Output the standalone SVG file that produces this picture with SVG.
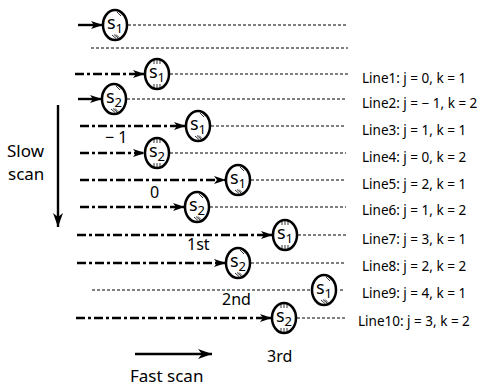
<svg xmlns="http://www.w3.org/2000/svg" xmlns:xlink="http://www.w3.org/1999/xlink" width="488" height="388" viewBox="0 0 488 388">
<style>
.bg{fill:#fff}
.el{fill:#fff;stroke:#000;stroke-width:2.5}
.st{font-family:"Noto Sans","Open Sans",sans-serif;font-size:18px;fill:#000}
.sub{font-size:13px}
.h{stroke:#000;stroke-width:0.8;fill:none}
.in{stroke:#000;stroke-width:2.4;fill:none;stroke-dasharray:9 3 3 3}
.solid{stroke:#000;stroke-width:2.4;fill:none}
.dot{stroke:#000;stroke-width:1;fill:none;stroke-dasharray:3 2}
.lbl{font-family:"Noto Sans","Open Sans",sans-serif;font-size:13.5px;fill:#000}
.big{font-family:"Noto Sans","Open Sans",sans-serif;font-size:17px;fill:#000}
.mid{font-family:"Noto Sans","Open Sans",sans-serif;font-size:16px;fill:#000}
</style>
<defs>
<marker id="ah" markerUnits="userSpaceOnUse" markerWidth="14" markerHeight="10" refX="12" refY="4" orient="auto">
<path d="M0,0 L12,4 L0,8 L3,4 z" fill="#000"/>
</marker>
<marker id="ahb" markerUnits="userSpaceOnUse" markerWidth="16" markerHeight="12" refX="14" refY="5" orient="auto">
<path d="M0,0 L14,5 L0,10 L4,5 z" fill="#000"/>
</marker>
<g id="hd">
<path class="h" d="M2,-13 L6,-9 M4,-13.5 L8,-9.5 M6,-12.5 L9,-9.5 M-3,10 L1,13.5 M-1,9.5 L3,13 M1,9.5 L4,12.5"/>
</g>
<g id="hv">
<path class="h" d="M-3,-14 V-10 M0,-14.5 V-10 M3,-14 V-10 M-3,10 V14 M0,10 V14.5 M3,10 V14"/>
</g>
</defs>
<rect class="bg" x="0" y="0" width="488" height="388"/>

<g id="connectors">
<line class="solid" x1="78" y1="25" x2="103" y2="25" marker-end="url(#ah)"/>
<line class="dot" x1="128" y1="25" x2="348" y2="25"/>
<line class="dot" x1="91" y1="48" x2="348" y2="48"/>
<line class="in" x1="75" y1="74" x2="145" y2="74" marker-end="url(#ah)"/>
<line class="dot" x1="170" y1="74" x2="348" y2="74"/>
<line class="solid" x1="78" y1="99" x2="102" y2="99" marker-end="url(#ah)"/>
<line class="dot" x1="127" y1="99" x2="346" y2="99"/>
<line class="in" x1="80" y1="126" x2="186" y2="126" marker-end="url(#ah)"/>
<line class="dot" x1="211" y1="126" x2="346" y2="126"/>
<line class="in" x1="80" y1="153" x2="145" y2="153" marker-end="url(#ah)"/>
<line class="dot" x1="170" y1="153" x2="346" y2="153"/>
<line class="in" x1="80" y1="180" x2="226" y2="180" marker-end="url(#ah)"/>
<line class="dot" x1="251" y1="180" x2="346" y2="180"/>
<line class="in" x1="80" y1="207" x2="185" y2="207" marker-end="url(#ah)"/>
<line class="dot" x1="210" y1="207" x2="346" y2="207"/>
<line class="in" x1="77" y1="235" x2="273" y2="235" marker-end="url(#ah)"/>
<line class="dot" x1="298" y1="235" x2="346" y2="235"/>
<line class="in" x1="77" y1="263" x2="226" y2="263" marker-end="url(#ah)"/>
<line class="dot" x1="251" y1="263" x2="346" y2="263"/>
<line class="dot" x1="92" y1="290" x2="312" y2="290"/>
<line class="dot" x1="340" y1="290" x2="345" y2="290"/>
<line class="in" x1="76" y1="318" x2="272" y2="318" marker-end="url(#ah)"/>
<line class="dot" x1="297" y1="318" x2="346" y2="318"/>
<line class="solid" x1="58" y1="105" x2="58" y2="227" marker-end="url(#ahb)"/>
<line class="solid" x1="135" y1="354" x2="212" y2="354" stroke-width="3" marker-end="url(#ahb)"/>
</g>

<g id="n0"><ellipse class="el" cx="115" cy="25" rx="12" ry="15"/><use xlink:href="#hd" x="115" y="25"/><text class="st" x="115" y="29" text-anchor="middle">s<tspan class="sub" dy="4">1</tspan></text></g>
<g id="n1"><ellipse class="el" cx="157" cy="74" rx="12" ry="15"/><use xlink:href="#hv" x="157" y="74"/><text class="st" x="157" y="78" text-anchor="middle">s<tspan class="sub" dy="4">1</tspan></text></g>
<g id="n2"><ellipse class="el" cx="114" cy="99" rx="12" ry="15"/><use xlink:href="#hd" x="114" y="99"/><text class="st" x="114" y="103" text-anchor="middle">s<tspan class="sub" dy="4">2</tspan></text></g>
<g id="n3"><ellipse class="el" cx="198" cy="126" rx="12" ry="15"/><use xlink:href="#hd" x="198" y="126"/><text class="st" x="198" y="130" text-anchor="middle">s<tspan class="sub" dy="4">1</tspan></text></g>
<g id="n4"><ellipse class="el" cx="157" cy="153" rx="12" ry="15"/><use xlink:href="#hv" x="157" y="153"/><text class="st" x="157" y="157" text-anchor="middle">s<tspan class="sub" dy="4">2</tspan></text></g>
<g id="n5"><ellipse class="el" cx="238" cy="180" rx="12" ry="15"/><use xlink:href="#hd" x="238" y="180"/><text class="st" x="238" y="184" text-anchor="middle">s<tspan class="sub" dy="4">1</tspan></text></g>
<g id="n6"><ellipse class="el" cx="197" cy="207" rx="12" ry="15"/><use xlink:href="#hd" x="197" y="207"/><text class="st" x="197" y="211" text-anchor="middle">s<tspan class="sub" dy="4">2</tspan></text></g>
<g id="n7"><ellipse class="el" cx="285" cy="235" rx="12" ry="15"/><use xlink:href="#hv" x="285" y="235"/><text class="st" x="285" y="239" text-anchor="middle">s<tspan class="sub" dy="4">1</tspan></text></g>
<g id="n8"><ellipse class="el" cx="238" cy="263" rx="12" ry="15"/><use xlink:href="#hd" x="238" y="263"/><text class="st" x="238" y="267" text-anchor="middle">s<tspan class="sub" dy="4">2</tspan></text></g>
<g id="n9"><ellipse class="el" cx="324" cy="290" rx="12" ry="15"/><use xlink:href="#hd" x="324" y="290"/><text class="st" x="324" y="294" text-anchor="middle">s<tspan class="sub" dy="4">1</tspan></text></g>
<g id="n10"><ellipse class="el" cx="284" cy="318" rx="12" ry="15"/><use xlink:href="#hv" x="284" y="318"/><text class="st" x="284" y="322" text-anchor="middle">s<tspan class="sub" dy="4">2</tspan></text></g>

<g id="labels">
<text class="lbl" x="362" y="83">Line1: j = 0, k = 1</text>
<text class="lbl" x="362" y="108">Line2: j = − 1, k = 2</text>
<text class="lbl" x="362" y="135">Line3: j = 1, k = 1</text>
<text class="lbl" x="362" y="162">Line4: j = 0, k = 2</text>
<text class="lbl" x="362" y="189">Line5: j = 2, k = 1</text>
<text class="lbl" x="362" y="215">Line6: j = 1, k = 2</text>
<text class="lbl" x="362" y="244">Line7: j = 3, k = 1</text>
<text class="lbl" x="362" y="271">Line8: j = 2, k = 2</text>
<text class="lbl" x="362" y="298">Line9: j = 4, k = 1</text>
<text class="lbl" x="358" y="326">Line10: j = 3, k = 2</text>
<text class="mid" x="105" y="143">− 1</text>
<text class="mid" x="150" y="198">0</text>
<text class="mid" x="187" y="250">1st</text>
<text class="mid" x="222" y="305">2nd</text>
<text class="mid" x="267" y="362">3rd</text>
<text class="big" x="7" y="157">Slow</text>
<text class="big" x="8" y="180">scan</text>
<text class="big" x="130" y="382" font-size="16">Fast scan</text>
</g>
</svg>
